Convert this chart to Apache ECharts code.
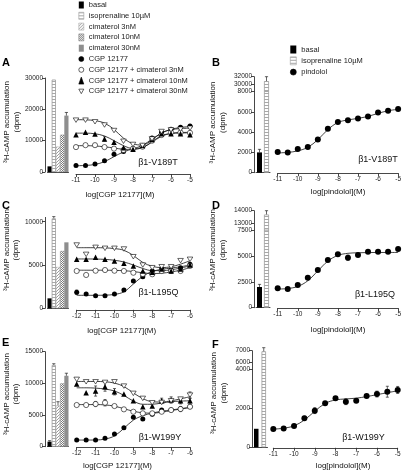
<!DOCTYPE html>
<html><head><meta charset="utf-8">
<script src="https://cdn.jsdelivr.net/npm/echarts@6/dist/echarts.min.js"></script>
<style>html,body{margin:0;padding:0;background:#fff}#c{width:404px;height:474px}</style>
</head><body><div id="c"></div>
<script>
// ---------- data ----------
const xCgpA = [-11,-10.5,-10,-9.5,-9,-8.5,-8,-7.5,-7,-6.5,-6,-5.5,-5];
const xCgpCE = [-12,-11.5,-11,-10.5,-10,-9.5,-9,-8.5,-8,-7.5,-7,-6.5,-6];
const xPin = [-11,-10.5,-10,-9.5,-9,-8.5,-8,-7.5,-7,-6.5,-6,-5.5,-5];
const barNamesCgp = ['basal','isoprenaline 10µM','cimaterol 3nM','cimaterol 10nM','cimaterol 30nM'];
const barNamesPin = ['basal','isoprenaline 10µM'];

// Panel A
const barsA = [1800, 29500, 8100, 11900, 18000];
const barErrA = [0, 0, 0, 0, 1000];
const cgpA = [2050,2050,2580,3600,5680,6520,7450,8260,10870,12600,13660,14280,14690];
const cim3A = [7950,8570,8570,7950,7450,7020,7450,8070,10000,11800,12600,12600,12500];
const cim10A = [11900,12700,12100,10560,9500,7760,7240,8480,10340,12200,12200,12200,11900];
const cim30A = [16550,16550,16030,15000,13230,9810,8790,8480,10560,12920,13450,13660,13970];
const cim10ErrA = [0,0,0,700,0,0,0,0,0,0,0,0,0];
const fitCgpA = [2000,2100,2400,3300,4900,6400,7400,8500,10500,12400,13600,14200,14500];
const fitCim3A = [8400,8400,8300,8050,7650,7250,7200,7800,9500,11400,12300,12600,12650];
const fitCim10A = [12400,12400,12200,11500,10000,8400,7500,7800,9700,11600,12300,12450,12500];
const fitCim30A = [16700,16650,16400,15600,13600,10800,9000,8600,10200,12500,13500,13850,14000];

// Panel B
const barsB = [2000, 30900];
const barErrB = [300, 1100];
const pinB = [2040,2000,2340,2540,3270,4340,5000,5170,5340,5540,5940,6100,6270];
const fitPinB = [1950,2000,2150,2500,3250,4250,4950,5200,5350,5550,5850,6100,6250];

// Panel C
const barsC = [1150, 10390, 4770, 6620, 7620];
const barErrC = [0, 200, 0, 0, 0];
const cgpC = [1850,1650,1460,1460,1650,2110,3150,3650,4310,4540,4420,4690,5080];
const cgpErrC = [250,0,0,0,0,0,0,0,0,0,0,0,0];
const cim3C = [4310,3850,4340,4420,4340,4310,4110,3960,3930,4310,4310,4310,4900];
const cim10C = [5660,5660,5890,5660,5460,5200,4890,4310,4160,4540,4310,4540,5000];
const cim30C = [7310,6230,7040,6930,6930,6850,5960,5000,4690,4800,4800,5500,5660];
const fitCgpC = [1500,1500,1500,1520,1600,1900,2800,3700,4250,4500,4650,4800,5000];
const fitCim3C = [4400,4400,4400,4400,4380,4340,4250,4100,4020,4050,4200,4400,4700];
const fitCim10C = [5700,5700,5690,5650,5550,5350,5000,4600,4350,4350,4450,4650,4900];
const fitCim30C = [7000,7000,7000,6980,6900,6700,6100,5300,4850,4700,4800,5100,5500];

// Panel D
const barsD = [2000, 13700];
const barErrD = [250, 300];
const pinD = [1870,1800,2190,2900,3640,4600,5150,4830,5090,5410,5410,5410,5660];
const pinErrD = [0,0,0,0,0,0,0,250,0,0,0,0,0];
const fitPinD = [1800,1850,2050,2600,3550,4500,5050,5250,5300,5320,5330,5330,5330];

// Panel E
const barsE = [800, 12900, 6500, 10000, 11200];
const barErrE = [150, 200, 600, 0, 400];
const cgpE = [1060,1060,1060,1320,2000,3000,4640,4370,5110,5790,5790,5950,6310];
const cim3E = [6580,6580,6740,6940,6420,5900,5520,5270,5270,5520,5790,5950,6310];
const cim3ErrE = [0,0,400,500,0,0,0,0,0,0,0,400,0];
const cim10E = [9890,8520,8790,9460,8680,8310,7260,6310,6420,7260,7370,7260,7260];
const cim10ErrE = [0,0,800,700,500,0,0,0,0,400,500,500,400];
const cim30E = [10630,10250,10250,10150,10250,9570,8420,7630,6940,6990,7260,7520,8150];
const cim30ErrE = [0,0,0,0,0,0,0,0,0,0,0,0,500];
const fitCgpE = [1050,1050,1060,1200,1700,2900,4200,4900,5300,5600,5800,6000,6200];
const fitCim3E = [6650,6650,6650,6600,6400,6000,5600,5350,5300,5450,5700,5950,6200];
const fitCim10E = [9300,9300,9250,9100,8800,8100,7200,6700,6700,6900,7100,7200,7250];
const fitCim30E = [10300,10300,10300,10250,10050,9500,8500,7600,7100,7050,7250,7550,7900];

// Panel F
const barsF = [950, 6950];
const barErrF = [0, 300];
const pinF = [940,970,1090,1490,1880,2260,2510,2340,2390,2630,2730,2850,2940];
const pinErrF = [0,0,0,100,150,0,0,150,0,0,150,280,180];
const fitPinF = [930,980,1100,1400,1850,2250,2430,2480,2520,2600,2700,2800,2900];

// tick values
const ticksA = [0,10000,20000,30000];
const ticksBlow = [0,2000,4000,6000,8000], ticksBup = [30000,32000];
const ticksC = [0,5000,10000];
const ticksDlow = [0,2500,5000,7500], ticksDup = [13000,14000];
const ticksE = [0,5000,10000,15000];
const ticksFlow = [0,2000,4000], ticksFup = [6000,7000];

// ---------- styling ----------
const font = '"Liberation Sans", Arial, Helvetica, sans-serif';
const axisLine = {color:'#333', width:0.9};
function pat(w,h,draw){const c=document.createElement('canvas');c.width=w;c.height=h;const g=c.getContext('2d');g.fillStyle='#fff';g.fillRect(0,0,w,h);draw(g);return {image:c,repeat:'repeat'};}
const isoPat = pat(4,3,g=>{g.fillStyle='#a8a8a8';g.fillRect(0,0,4,1);});
const cim3Pat = pat(3,3,g=>{g.fillStyle='#9c9c9c';g.fillRect(2,0,1,1);g.fillRect(1,1,1,1);g.fillRect(0,2,1,1);});
const cim10Pat = pat(2,2,g=>{g.fillStyle='#7a7a7a';g.fillRect(0,0,1,1);g.fillRect(1,1,1,1);});
const barStyles = {
  'basal': {color:'#000'},
  'isoprenaline 10µM': {color:isoPat, borderColor:'#9a9a9a', borderWidth:0.8},
  'cimaterol 3nM': {color:cim3Pat, borderColor:'#aaa', borderWidth:0.5},
  'cimaterol 10nM': {color:cim10Pat, borderColor:'#888', borderWidth:0.5},
  'cimaterol 30nM': {color:'#8e8e8e'}
};
const invTri = 'path://M0,0L10,0L5,9Z';
const sty = {
  'CGP 12177': {symbol:'circle', size:5, color:'#000'},
  'CGP 12177 + cimaterol 3nM': {symbol:'circle', size:5.2, color:'#fff', border:'#000'},
  'CGP 12177 + cimaterol 10nM': {symbol:'triangle', size:5.5, color:'#000'},
  'CGP 12177 + cimaterol 30nM': {symbol:invTri, size:[5.6,5], color:'#fff', border:'#000'},
  'pindolol': {symbol:'circle', size:6, color:'#000'}
};

const option = {animation:false, grid:[], xAxis:[], yAxis:[], series:[], graphic:[]};

function errSeries(ai, data, cap, upperOnly){
  return {type:'custom', xAxisIndex:ai, yAxisIndex:ai, data, silent:true, z:3, clip:false,
    renderItem(params, api){
      const x=api.value(0), y=api.value(1), e=api.value(2);
      const a=api.coord([x,y+e]), b=api.coord([x, upperOnly? y : y-e]);
      const st={stroke:'#222', lineWidth:0.7};
      const ch=[{type:'line',shape:{x1:a[0],y1:a[1],x2:b[0],y2:b[1]},style:st},
                {type:'line',shape:{x1:a[0]-cap,y1:a[1],x2:a[0]+cap,y2:a[1]},style:st}];
      if(!upperOnly) ch.push({type:'line',shape:{x1:b[0]-cap,y1:b[1],x2:b[0]+cap,y2:b[1]},style:st});
      return {type:'group', children:ch};
    }};
}

function yAxisCfg(gi, min, max, ticks, offset){
  return {type:'value', gridIndex:gi, min, max, offset:offset||0,
    axisLine:{show:true, onZero:false, lineStyle:axisLine},
    axisTick:{show:true, length:3, customValues:ticks, lineStyle:axisLine},
    axisLabel:{customValues:ticks, fontSize:6.5, margin:2, color:'#222', fontFamily:font, formatter:v=>String(v)},
    splitLine:{show:false}};
}

function addBars(p){
  const segs=[{top:p.top,height:p.height,min:p.min,max:p.max,ticks:p.ticks,lower:true}];
  if(p.upper) segs.push(Object.assign({lower:false},p.upper));
  segs.forEach(s=>{
    const gi=option.grid.length;
    option.grid.push({left:p.left,width:p.width,top:s.top,height:s.height});
    option.xAxis.push({type:'category',gridIndex:gi,data:p.names,show:s.lower,
      axisLine:{show:true,onZero:false,lineStyle:axisLine},axisTick:{show:false},axisLabel:{show:false}});
    option.yAxis.push(yAxisCfg(gi,s.min,s.max,s.ticks,p.axisOffset));
    p.names.forEach((nm,i)=>{
      if(!s.lower && p.values[i]<s.min) return;
      option.series.push({type:'bar',name:nm,xAxisIndex:gi,yAxisIndex:gi,barWidth:p.barWidth,barGap:'-100%',
        data:p.names.map((_,j)=>j===i?p.values[j]:'-'),itemStyle:barStyles[nm],clip:true,silent:true});
    });
    const ed=[];
    p.values.forEach((v,i)=>{ if(p.errs[i] && v>=s.min && v<=s.max) ed.push([i,v,p.errs[i]]); });
    if(ed.length) option.series.push(errSeries(gi,ed,1.6,true));
  });
}

function addLines(p){
  const gi=option.grid.length;
  option.grid.push({left:p.left,width:p.width,top:p.top,height:p.height});
  option.xAxis.push({type:'value',gridIndex:gi,min:p.xmin,max:p.xmax,interval:1,offset:p.xOffset||0,
    axisLine:{show:true,onZero:false,lineStyle:axisLine},axisTick:{show:true,length:3,lineStyle:axisLine},
    axisLabel:{fontSize:6.5,margin:3,color:'#222',fontFamily:font},splitLine:{show:false}});
  option.yAxis.push({type:'value',gridIndex:gi,min:p.ymin,max:p.ymax,show:false});
  p.series.forEach(s=>{
    option.series.push({type:'line',name:s.name+' (fit)',xAxisIndex:gi,yAxisIndex:gi,
      data:s.x.map((x,i)=>[x,s.fit[i]]),smooth:0.35,showSymbol:false,symbol:'none',
      lineStyle:{color:'#111',width:0.8},itemStyle:{color:'#111'},silent:true,z:2});
  });
  p.series.forEach(s=>{
    if(!s.err) return;
    const ed=[]; s.err.forEach((e,i)=>{ if(e) ed.push([s.x[i],s.y[i],e]); });
    if(ed.length) option.series.push(errSeries(gi,ed,1.5,false));
  });
  p.series.forEach(s=>{
    const st=sty[s.name];
    option.series.push({type:'scatter',name:s.name,xAxisIndex:gi,yAxisIndex:gi,
      data:s.x.map((x,i)=>[x,s.y[i]]),symbol:st.symbol,symbolSize:st.size,symbolKeepAspect:true,
      itemStyle:{color:st.color,borderColor:st.border||st.color,borderWidth:st.border?0.6:0,opacity:1},silent:true,z:4});
  });
}

// ---------- panels ----------
// A
addBars({left:47.5,width:21,axisOffset:2.5,top:78,height:94,min:0,max:30000,ticks:ticksA,
  names:barNamesCgp,values:barsA,errs:barErrA,barWidth:4.2});
addLines({left:76,width:114,top:78,height:94,ymin:0,ymax:30000,xmin:-11,xmax:-5,xOffset:2,series:[
  {name:'CGP 12177',x:xCgpA,y:cgpA,fit:fitCgpA},
  {name:'CGP 12177 + cimaterol 3nM',x:xCgpA,y:cim3A,fit:fitCim3A},
  {name:'CGP 12177 + cimaterol 10nM',x:xCgpA,y:cim10A,fit:fitCim10A,err:cim10ErrA},
  {name:'CGP 12177 + cimaterol 30nM',x:xCgpA,y:cim30A,fit:fitCim30A}]});
// B
addBars({left:256,width:14,axisOffset:2,top:91.5,height:81.2,min:0,max:8000,ticks:ticksBlow,
  upper:{top:76.7,height:14.8,min:28300,max:32000,ticks:ticksBup},
  names:barNamesPin,values:barsB,errs:barErrB,barWidth:5});
addLines({left:277.7,width:122.3,top:91.5,height:81.2,ymin:0,ymax:8000,xmin:-11,xmax:-5,xOffset:0.5,series:[
  {name:'pindolol',x:xPin,y:pinB,fit:fitPinB}]});
// C
addBars({left:47.5,width:21,axisOffset:2.5,top:217.4,height:90.9,min:0,max:10500,ticks:ticksC,
  names:barNamesCgp,values:barsC,errs:barErrC,barWidth:4.2});
addLines({left:76.7,width:113.3,top:217.4,height:90.9,ymin:0,ymax:10500,xmin:-12,xmax:-6,xOffset:1.5,series:[
  {name:'CGP 12177',x:xCgpCE,y:cgpC,fit:fitCgpC,err:cgpErrC},
  {name:'CGP 12177 + cimaterol 3nM',x:xCgpCE,y:cim3C,fit:fitCim3C},
  {name:'CGP 12177 + cimaterol 10nM',x:xCgpCE,y:cim10C,fit:fitCim10C},
  {name:'CGP 12177 + cimaterol 30nM',x:xCgpCE,y:cim30C,fit:fitCim30C}]});
// D
addBars({left:256,width:14,axisOffset:2,top:230,height:77.7,min:0,max:7500,ticks:ticksDlow,
  upper:{top:210.7,height:19.3,min:12470,max:14000,ticks:ticksDup},
  names:barNamesPin,values:barsD,errs:barErrD,barWidth:5});
addLines({left:277.7,width:122.3,top:230,height:77.7,ymin:0,ymax:7500,xmin:-11,xmax:-5,xOffset:0.5,series:[
  {name:'pindolol',x:xPin,y:pinD,fit:fitPinD,err:pinErrD}]});
// E
addBars({left:47.5,width:21,axisOffset:2.5,top:351.7,height:95,min:0,max:15000,ticks:ticksE,
  names:barNamesCgp,values:barsE,errs:barErrE,barWidth:4.2});
addLines({left:76.7,width:113.3,top:351.7,height:95,ymin:0,ymax:15000,xmin:-12,xmax:-6,xOffset:0.5,series:[
  {name:'CGP 12177',x:xCgpCE,y:cgpE,fit:fitCgpE},
  {name:'CGP 12177 + cimaterol 3nM',x:xCgpCE,y:cim3E,fit:fitCim3E,err:cim3ErrE},
  {name:'CGP 12177 + cimaterol 10nM',x:xCgpCE,y:cim10E,fit:fitCim10E,err:cim10ErrE},
  {name:'CGP 12177 + cimaterol 30nM',x:xCgpCE,y:cim30E,fit:fitCim30E,err:cim30ErrE}]});
// F
addBars({left:252.5,width:15,axisOffset:0.5,top:369.3,height:78,min:0,max:4000,ticks:ticksFlow,
  upper:{top:350.7,height:18.6,min:5450,max:7000,ticks:ticksFup},
  names:barNamesPin,values:barsF,errs:barErrF,barWidth:4.5});
addLines({left:273.3,width:124.4,top:369.3,height:78,ymin:0,ymax:4000,xmin:-11,xmax:-5,xOffset:0.5,series:[
  {name:'pindolol',x:xPin,y:pinF,fit:fitPinF,err:pinErrF}]});

// ---------- legends ----------
const legText = {fontSize:7.5, lineHeight:8, color:'#222', fontFamily:font};
option.legend = [
  {left:78.5, top:1, padding:0, orient:'vertical', itemWidth:5, itemHeight:7, itemGap:2.8, selectedMode:false,
   itemStyle:{borderWidth:0.6}, textStyle:legText, data:[
    {name:'basal',icon:'rect'},{name:'isoprenaline 10µM',icon:'rect'},{name:'cimaterol 3nM',icon:'rect'},
    {name:'cimaterol 10nM',icon:'rect'},{name:'cimaterol 30nM',icon:'rect'},
    {name:'CGP 12177',icon:'circle'},{name:'CGP 12177 + cimaterol 3nM',icon:'circle'},
    {name:'CGP 12177 + cimaterol 10nM',icon:'triangle'},{name:'CGP 12177 + cimaterol 30nM',icon:invTri}]},
  {left:290, top:45.5, padding:0, orient:'vertical', itemWidth:6, itemHeight:8, itemGap:3, selectedMode:false,
   itemStyle:{borderWidth:0.6}, textStyle:legText, data:[{name:'basal',icon:'rect'},{name:'isoprenaline 10µM',icon:'rect'},{name:'pindolol',icon:'circle'}]}
];

// ---------- texts ----------
function txt(x,y,text,size,opts){
  option.graphic.push(Object.assign({type:'text',x,y,silent:true,
    style:Object.assign({text,fill:'#111',fontSize:size,fontFamily:font,align:'center',verticalAlign:'middle'},opts&&opts.style||{})},
    opts&&opts.rot?{rotation:Math.PI/2}:{}));
}
const letters=[['A',2,62.5],['B',212,62.5],['C',2,205.5],['D',212,205.5],['E',2,343],['F',212,344.5]];
letters.forEach(l=>txt(l[1],l[2],l[0],11,{style:{fontWeight:'bold',align:'left',fill:'#000'}}));
const yTitle='³H-cAMP accumulation';
[[7,122,16.5],[212.7,122.5,223],[6.5,250,16],[212.7,250,223],[6.5,394,16],[213.5,393,224]].forEach(t=>{
  txt(t[0],t[1],yTitle,8,{rot:true}); txt(t[2],t[1],'(dpm)',8,{rot:true});
});
[[158,163,'β1-V189T'],[378,160,'β1-V189T'],[158.5,293,'β1-L195Q'],[375,295,'β1-L195Q'],[160,438,'β1-W199Y'],[363.5,437.7,'β1-W199Y']]
  .forEach(t=>txt(t[0],t[1],t[2],9));
[[120,195,'log[CGP 12177](M)'],[338,191.7,'log[pindolol](M)'],[121.7,330.5,'log[CGP 12177](M)'],[338,330,'log[pindolol](M)'],
 [117.5,466,'log[CGP 12177](M)'],[343,466,'log[pindolol](M)']].forEach(t=>txt(t[0],t[1],t[2],8));

const chart = echarts.init(document.getElementById('c'), null, {renderer:'canvas'});
chart.setOption(option);
</script></body></html>
